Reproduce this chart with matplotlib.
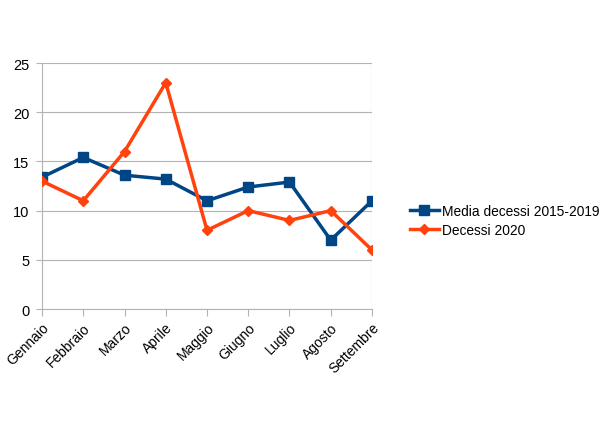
import matplotlib
matplotlib.use('Agg')
import matplotlib.pyplot as plt

mesi = ['Gennaio', 'Febbraio', 'Marzo', 'Aprile', 'Maggio', 'Giugno',
        'Luglio', 'Agosto', 'Settembre']
media_2015_2019 = [13.4, 15.4, 13.6, 13.2, 11.0, 12.4, 12.9, 7.0, 11.0]
decessi_2020 = [13, 11, 16, 23, 8, 10, 9, 10, 6]
y_ticks = [0, 5, 10, 15, 20, 25]

plt.rcParams['font.family'] = ['Liberation Sans', 'DejaVu Sans']

fig = plt.figure(figsize=(6.1, 4.31), dpi=100)
ax = fig.add_axes([0.0689, 0.2807, 0.5409, 0.5708])

xs = list(range(len(mesi)))
ax.plot(xs, media_2015_2019, color='#004586', lw=2.5, marker='s', ms=7.5,
        label='Media decessi 2015-2019', zorder=3)
ax.plot(xs, decessi_2020, color='#ff420e', lw=2.5, marker='D', ms=5.5,
        label='Decessi 2020', zorder=4)

ax.set_xlim(0, len(mesi) - 1)
ax.set_ylim(0, 25)
ax.set_yticks(y_ticks)
ax.set_xticks(xs)
ax.set_xticklabels(mesi, rotation=45, ha='right', rotation_mode='anchor', fontsize=10)
ax.tick_params(axis='y', labelsize=10.5, length=4, color='#b3b3b3', pad=5)
ax.tick_params(axis='x', length=5, color='#b3b3b3', pad=3)
ax.grid(axis='y', color='#b3b3b3', lw=0.8)
ax.grid(axis='x', visible=False)
ax.axvline(len(mesi) - 1, color='#b3b3b3', lw=0.8, zorder=1)
for s in ['top', 'right']:
    ax.spines[s].set_visible(False)
for s in ['left', 'bottom']:
    ax.spines[s].set_color('#b3b3b3')
    ax.spines[s].set_linewidth(0.8)

fig.legend(loc='center left', bbox_to_anchor=(0.672, 0.487), frameon=False,
           fontsize=9.9, handlelength=2.1, handletextpad=0.25, labelspacing=0.35,
           borderaxespad=0, borderpad=0)

fig.savefig('out.png', dpi=100)
